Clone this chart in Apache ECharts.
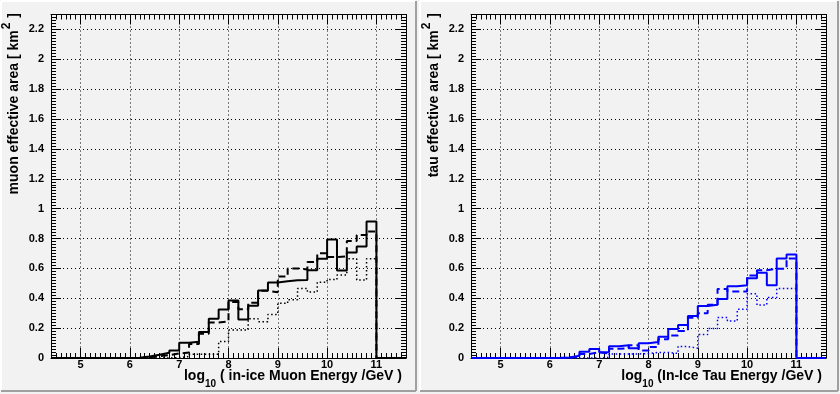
<!DOCTYPE html>
<html><head><meta charset="utf-8">
<script src="https://cdn.jsdelivr.net/npm/echarts@6/dist/echarts.min.js"></script>
<style>html,body{margin:0;padding:0;background:#f2f2f2;}#c{width:840px;height:394px;}</style>
</head><body><div id="c"></div><script>
// ---- data ----
const binEdges = [4.4,4.6,4.8,5.0,5.2,5.4,5.6,5.8,6.0,6.2,6.4,6.6,6.8,7.0,7.2,7.4,7.6,7.8,8.0,8.2,8.4,8.6,8.8,9.0,9.2,9.4,9.6,9.8,10.0,10.2,10.4,10.6,10.8,11.0,11.2,11.4,11.6];
const muonSolid  = [0,0,0,0,0,0,0,0, 0.002,0.010,0.022,0.035,0.050,0.102,0.108,0.174,0.263,0.325,0.385,0.257,0.350,0.452,0.506,0.514,0.520,0.522,0.587,0.665,0.794,0.586,0.707,0.746,0.914, 0,0,0];
const muonDashed = [0,0,0,0,0,0,0,0, 0,0.004,0.012,0.020,0.030,0.037,0.093,0.162,0.238,0.245,0.375,0.326,0.370,0.450,0.440,0.546,0.600,0.593,0.642,0.702,0.676,0.680,0.783,0.823,0.847, 0,0,0];
const muonDotted = [0,0,0,0,0,0,0,0, 0,0,0,0,0.003,0.010,0.025,0.025,0.025,0.110,0.187,0.187,0.262,0.243,0.292,0.366,0.390,0.466,0.442,0.508,0.525,0.556,0.664,0.522,0.665, 0,0,0];
const tauSolid   = [0,0,0,0,0,0,0,0, 0,0.004,0.015,0.042,0.060,0.038,0.079,0.086,0.065,0.099,0.107,0.143,0.194,0.221,0.282,0.348,0.357,0.395,0.480,0.487,0.534,0.570,0.487,0.667,0.693, 0,0,0];
const tauDashed  = [0,0,0,0,0,0,0,0, 0,0.003,0.009,0.027,0.038,0.031,0.062,0.065,0.085,0.050,0.073,0.125,0.150,0.180,0.270,0.300,0.357,0.462,0.446,0.446,0.552,0.587,0.598,0.598,0.667, 0,0,0];
const tauDotted  = [0,0,0,0,0,0,0,0, 0,0,0,0,0,0.005,0.027,0.027,0.027,0.030,0.037,0.037,0.031,0.077,0.065,0.157,0.198,0.272,0.247,0.326,0.430,0.355,0.405,0.466,0.466, 0,0,0];
const xTickLabels = [5,6,7,8,9,10,11];
const yTickLabels = [0,0.2,0.4,0.6,0.8,1,1.2,1.4,1.6,1.8,2,2.2];
const xMin = 4.4, xMax = 11.6, yMin = 0, yMax = 2.3;
const yTitles = ['muon effective area [ km', 'tau effective area [ km'];
const yTitleSup = '2';
const yTitleEnd = ' ]';
const xTitles = [' ( in-ice Muon Energy /GeV )', ' (In-Ice Tau Energy /GeV )'];

// ---- build ----
const FONT = '"Liberation Sans", Arial, Helvetica, sans-serif';
function steps(vals){
  const d = vals.map((v,i)=>[binEdges[i], v]);
  d.push([binEdges[binEdges.length-1], vals[vals.length-1]]);
  return d;
}
const grids = [
  {left:51, top:14.5, width:355, height:343.5},
  {left:471, top:14.5, width:355, height:343.5}
];
const xAxis = [], yAxis = [], series = [];
const black = '#000';
grids.forEach((g,gi)=>{
  const base = {gridIndex:gi, type:'value', min:xMin, max:xMax};
  xAxis.push(Object.assign({}, base, {position:'bottom',
    axisLine:{show:true,onZero:false,lineStyle:{color:black,width:1}},
    axisTick:{show:true,inside:true,length:10,customValues:xTickLabels,lineStyle:{color:black,width:1}},
    axisLabel:{show:true,customValues:xTickLabels,margin:1,color:black,fontSize:11,fontWeight:'bold',fontFamily:FONT},
    splitLine:{show:true,lineStyle:{color:black,width:1,type:[1,3]}}}));
  xAxis.push(Object.assign({}, base, {position:'bottom', interval:0.1,
    axisLine:{show:false,onZero:false}, axisTick:{show:true,inside:true,length:5,lineStyle:{color:black}},
    axisLabel:{show:false}, splitLine:{show:false}}));
  xAxis.push(Object.assign({}, base, {position:'top',
    axisLine:{show:true,onZero:false,lineStyle:{color:black,width:1}},
    axisTick:{show:true,inside:true,length:10,customValues:xTickLabels,lineStyle:{color:black}},
    axisLabel:{show:false}, splitLine:{show:false}}));
  xAxis.push(Object.assign({}, base, {position:'top', interval:0.1,
    axisLine:{show:false,onZero:false}, axisTick:{show:true,inside:true,length:5,lineStyle:{color:black}},
    axisLabel:{show:false}, splitLine:{show:false}}));
  const ybase = {gridIndex:gi, type:'value', min:yMin, max:yMax};
  yAxis.push(Object.assign({}, ybase, {position:'left', interval:0.2,
    axisLine:{show:true,onZero:false,lineStyle:{color:black,width:1}},
    axisTick:{show:true,inside:true,length:10,customValues:yTickLabels,lineStyle:{color:black}},
    axisLabel:{show:true,customValues:yTickLabels,margin:7,color:black,fontSize:11,fontWeight:'bold',fontFamily:FONT},
    splitLine:{show:true,lineStyle:{color:black,width:1,type:[1,3]}}}));
  yAxis.push(Object.assign({}, ybase, {position:'left', interval:0.02,
    axisLine:{show:false,onZero:false}, axisTick:{show:true,inside:true,length:5,lineStyle:{color:black}},
    axisLabel:{show:false}, splitLine:{show:false}}));
  yAxis.push(Object.assign({}, ybase, {position:'right',
    axisLine:{show:true,onZero:false,lineStyle:{color:black,width:1}},
    axisTick:{show:true,inside:true,length:10,customValues:yTickLabels,lineStyle:{color:black}},
    axisLabel:{show:false}, splitLine:{show:false}}));
  yAxis.push(Object.assign({}, ybase, {position:'right', interval:0.02,
    axisLine:{show:false,onZero:false}, axisTick:{show:true,inside:true,length:5,lineStyle:{color:black}},
    axisLabel:{show:false}, splitLine:{show:false}}));
});
function addSeries(gi, vals, color, type, width){
  series.push({type:'line', xAxisIndex:gi*4, yAxisIndex:gi*4, step:'end', symbol:'none', clip:false,
    data:steps(vals), lineStyle:{color:color,width:width,type:type}, animation:false, silent:true});
}
addSeries(0, muonDotted, '#000', [1.5,2.5], 1.5);
addSeries(0, muonDashed, '#000', [7,4], 2);
addSeries(0, muonSolid, '#000', 'solid', 2);
addSeries(1, tauDotted, '#0000ff', [1.5,2.5], 1.5);
addSeries(1, tauDashed, '#0000ff', [7,4], 2);
addSeries(1, tauSolid, '#0000ff', 'solid', 2);

// text measurement for title layout
const mctx = document.createElement('canvas').getContext('2d');
function tw(txt, size){ mctx.font = 'bold '+size+'px "Liberation Sans", Arial, sans-serif'; return mctx.measureText(txt).width; }

const graphic = [];
// pad bevels
[[1,416],[420,838]].forEach(([x0,x1])=>{
  const y0=1, y1=391;
  graphic.push({type:'line',shape:{x1:x0,y1:y0,x2:x1,y2:y0},style:{stroke:'#ffffff',lineWidth:2},z:-1});
  graphic.push({type:'line',shape:{x1:x0,y1:y0,x2:x0,y2:y1},style:{stroke:'#ffffff',lineWidth:2},z:-1});
  graphic.push({type:'line',shape:{x1:x0,y1:y1,x2:x1,y2:y1},style:{stroke:'#a0a0a0',lineWidth:2},z:-1});
  graphic.push({type:'line',shape:{x1:x1,y1:y0,x2:x1,y2:y1},style:{stroke:'#a0a0a0',lineWidth:2},z:-1});
});
const richT = {fontSize:14,fontWeight:'bold',fontFamily:FONT,fill:'#000'};
function ytext(txt, x, y, size){
  return {type:'text', x:x, y:y, rotation:Math.PI/2,
    style:{text:txt, align:'right', verticalAlign:'middle', fontSize:size, fontWeight:'bold', fontFamily:FONT, fill:'#000'}};
}
[0,1].forEach(gi=>{
  const off = gi*420;
  const yEnd = 13, cx = 14 + off;
  const wEnd = tw(yTitleEnd, 14), wSup = tw(yTitleSup, 12);
  graphic.push(ytext(yTitleEnd, cx, yEnd, 14));
  graphic.push(ytext(yTitleSup, cx-7.5, yEnd + wEnd + 1, 12));
  graphic.push(ytext(yTitles[gi], cx, yEnd + wEnd + wSup + 2, 14));
  graphic.push({type:'text', x:402+off, y:369,
    style:{text:'{t|log}{s|10}{t|'+xTitles[gi]+'}', align:'right', verticalAlign:'top',
      rich:{t:Object.assign({},richT,{lineHeight:15,verticalAlign:'top'}), s:Object.assign({},richT,{fontSize:10,lineHeight:20,verticalAlign:'bottom'})}}});
});

const chart = echarts.init(document.getElementById('c'), null, {renderer:'canvas', devicePixelRatio:1});
chart.setOption({animation:false, backgroundColor:'#f2f2f2', grid:grids, xAxis, yAxis, series, graphic});
</script></body></html>
